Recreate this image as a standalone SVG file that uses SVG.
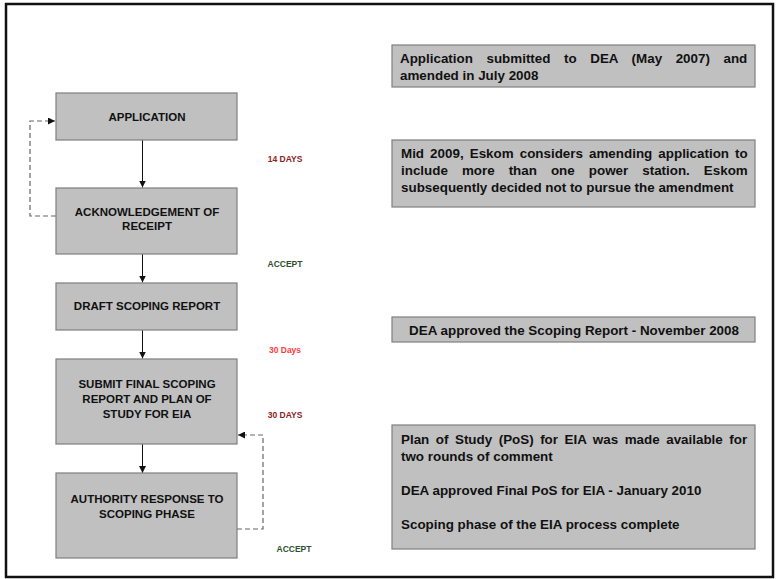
<svg xmlns="http://www.w3.org/2000/svg" width="776" height="579" viewBox="0 0 776 579">
<style>
.box{fill:#C0C0C0;stroke:#7F7F7F;stroke-width:1.2}
.bt{font-family:"Liberation Sans",Arial,sans-serif;font-weight:bold;font-size:11.5px;fill:#111;text-anchor:middle}
.nt{font-family:"Liberation Sans",Arial,sans-serif;font-weight:bold;font-size:13.4px;fill:#111}
.lb{font-family:"Liberation Sans",Arial,sans-serif;font-weight:bold;font-size:8.5px;text-anchor:middle}
.solid{stroke:#111;stroke-width:1;fill:none}
.dash{stroke:#666;stroke-width:1.2;fill:none;stroke-dasharray:5,3}
</style>
<defs>
<marker id="ah" viewBox="0 0 10 10" refX="10" refY="5" markerWidth="7" markerHeight="7" markerUnits="userSpaceOnUse" orient="auto">
<path d="M0,0 L10,5 L0,10 z" fill="#111"/>
</marker>
</defs>
<rect x="0" y="0" width="776" height="579" fill="#fff"/>
<rect x="6" y="4" width="767" height="573" fill="none" stroke="#111" stroke-width="2.5"/>

<g id="connectors">
<line class="solid" x1="142.5" y1="140" x2="142.5" y2="187.5" marker-end="url(#ah)"/>
<line class="solid" x1="142.5" y1="254" x2="142.5" y2="282.5" marker-end="url(#ah)"/>
<line class="solid" x1="142.5" y1="330" x2="142.5" y2="358.5" marker-end="url(#ah)"/>
<line class="solid" x1="142.5" y1="444" x2="142.5" y2="473" marker-end="url(#ah)"/>
<path class="dash" d="M56,216 H30 V121 H55" marker-end="url(#ah)"/>
<path class="dash" d="M237,529 H263 V435 H238" marker-end="url(#ah)"/>
</g>

<g id="application">
<rect class="box" x="56" y="93" width="181" height="47"/>
<text class="bt" x="147" y="121">APPLICATION</text>
</g>
<g id="acknowledgement">
<rect class="box" x="56" y="188" width="181" height="66"/>
<text class="bt" x="147" y="216">ACKNOWLEDGEMENT OF</text>
<text class="bt" x="147" y="230">RECEIPT</text>
</g>
<g id="draft">
<rect class="box" x="56" y="283" width="181" height="47"/>
<text class="bt" x="147" y="310">DRAFT SCOPING REPORT</text>
</g>
<g id="submit">
<rect class="box" x="56" y="359" width="181" height="85"/>
<text class="bt" x="147" y="388">SUBMIT FINAL SCOPING</text>
<text class="bt" x="147" y="403">REPORT AND PLAN OF</text>
<text class="bt" x="147" y="418">STUDY FOR EIA</text>
</g>
<g id="authority">
<rect class="box" x="56" y="473" width="181" height="85"/>
<text class="bt" x="147" y="503">AUTHORITY RESPONSE TO</text>
<text class="bt" x="147" y="518">SCOPING PHASE</text>
</g>

<g id="labels">
<text class="lb" x="285" y="162" fill="#8B2323">14 DAYS</text>
<text class="lb" x="285" y="267" fill="#2E4F2E">ACCEPT</text>
<text class="lb" x="285" y="353" fill="#FF3B3B">30 Days</text>
<text class="lb" x="285" y="418" fill="#8B2323">30 DAYS</text>
<text class="lb" x="294" y="552" fill="#2E4F2E">ACCEPT</text>
</g>

<g id="note1">
<rect class="box" x="392" y="45" width="363" height="42"/>
<text class="nt" x="400" y="63" word-spacing="9.85">Application submitted to DEA (May 2007) and</text>
<text class="nt" x="400" y="80">amended in July 2008</text>
</g>
<g id="note2">
<rect class="box" x="392" y="140" width="363" height="67"/>
<text class="nt" x="401" y="158" word-spacing="2.35">Mid 2009, Eskom considers amending application to</text>
<text class="nt" x="401" y="175" word-spacing="10.3">include more than one power station. Eskom</text>
<text class="nt" x="401" y="192">subsequently decided not to pursue the amendment</text>
</g>
<g id="note3">
<rect class="box" x="392" y="317" width="363" height="25"/>
<text class="nt" x="574" y="335" text-anchor="middle">DEA approved the Scoping Report - November 2008</text>
</g>
<g id="note4">
<rect class="box" x="392" y="425" width="363" height="124"/>
<text class="nt" x="401" y="444" word-spacing="2.8">Plan of Study (PoS) for EIA was made available for</text>
<text class="nt" x="401" y="461">two rounds of comment</text>
<text class="nt" x="401" y="495">DEA approved Final PoS for EIA - January 2010</text>
<text class="nt" x="401" y="529">Scoping phase of the EIA process complete</text>
</g>
</svg>
